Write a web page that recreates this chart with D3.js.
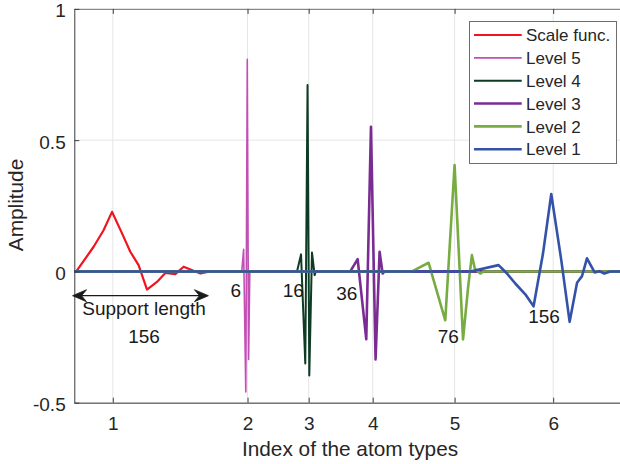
<!DOCTYPE html>
<html>
<head>
<meta charset="utf-8">
<script src="https://cdn.jsdelivr.net/npm/d3@7"></script>
<style>
  html, body { margin: 0; padding: 0; background: #fff; }
  svg { display: block; font-family: "Liberation Sans", Arial, Helvetica, sans-serif; }
</style>
</head>
<body>
<svg id="chart" width="620" height="464"></svg>
<script>
// Sample positions of the atom-type ticks and their labels
const tickSamples = [44.2, 198.9, 269.1, 342.6, 436.6, 549.8];
const tickLabels = ["1", "2", "3", "4", "5", "6"];
const yTicks = [-0.5, 0, 0.5, 1];
const yTickLabels = ["-0.5", "0", "0.5", "1"];

// Series names and colours
const seriesNames = ["Scale func.", "Level 5", "Level 4", "Level 3", "Level 2", "Level 1"];
const seriesColors = ["#f0141e", "#c24fb4", "#0d3b23", "#7b2c93", "#77ac41", "#3352a8"];
const seriesWidths = [2.2, 1.6, 2, 2.6, 2.6, 2.6];

// Atom waveforms: [sample index, amplitude]; zero elsewhere
const scaleFunc = [[2.3, 0], [22.2, 0.094], [33.6, 0.157], [43.3, 0.227], [54.8, 0.145], [64.3, 0.075],
  [73.8, 0.024], [83.5, -0.069], [94.9, -0.040], [104.5, -0.006], [116, -0.010], [125.5, 0.018],
  [144.7, -0.008], [156.1, 0]];
const level5 = [[192.3, 0], [194.4, 0.084], [196.9, -0.459], [198.6, 0.808], [200.1, -0.335], [201.5, 0]];
const level4 = [[255.7, 0], [260.3, 0.065], [265.2, -0.351], [267.8, 0.71], [269.8, -0.396],
  [272.9, 0.072], [275.9, -0.014], [277.3, 0]];
const level3 = [[316.9, 0], [325.3, 0.047], [335.2, -0.258], [340.6, 0.551], [345.9, -0.335],
  [350.5, 0.075], [354, -0.008], [356.3, 0]];
const level2 = [[387.7, 0], [406.8, 0.033], [425.9, -0.186], [436.6, 0.405], [446.3, -0.259],
  [452, -0.065], [456.5, 0.062], [459.8, 0.011], [466.1, -0.008], [469.9, 0]];
const level1 = [[454.7, 0], [487.1, 0.024], [496.8, -0.008], [506.3, -0.046], [517.8, -0.087],
  [527.3, -0.133], [538.1, 0.068], [547.6, 0.295], [559.1, 0.043], [568.7, -0.192], [577.2, -0.043],
  [582.9, -0.018], [588.6, 0.05], [597.4, -0.004], [602.8, 0.001], [608.5, -0.008], [615.4, 0]];
const seriesData = [scaleFunc, level5, level4, level3, level2, level1];

// Support lengths of each atom (samples)
const supportLengths = [156, 6, 16, 36, 76, 156];
const supportStart = -2;

const svg = d3.select("#chart");
const sampleMax = 640;
const x = d3.scaleLinear().domain([0, sampleMax]).range([74.3, 74.3 + sampleMax * 0.871]);
const y = d3.scaleLinear().domain([-0.5, 1]).range([402.7, 8.9]);
const x0 = x(0), x1 = x(sampleMax), yb = y(-0.5), yt = y(1);

const textColor = "#262626";
const axisColor = "#3c3c3c";

// Grid
const grid = svg.append("g");
grid.selectAll("line.gx").data(tickSamples).join("line")
  .attr("x1", d => x(d)).attr("x2", d => x(d)).attr("y1", yb).attr("y2", yt)
  .attr("stroke", "#e6e6e6").attr("stroke-width", 1);
grid.selectAll("line.gy").data(yTicks).join("line")
  .attr("x1", x0).attr("x2", x1).attr("y1", d => y(d)).attr("y2", d => y(d))
  .attr("stroke", "#e6e6e6").attr("stroke-width", 1);

// Series lines, padded with zeros across the full sample range
const line = d3.line().x(d => x(d[0])).y(d => y(d[1]));
seriesData.forEach((pts, i) => {
  const full = [[0, 0], ...pts, [sampleMax, 0]];
  svg.append("path").datum(full)
    .attr("d", line)
    .attr("fill", "none")
    .attr("stroke", seriesColors[i])
    .attr("stroke-width", seriesWidths[i])
    .attr("stroke-linejoin", "round");
});

// Axes (ticks point inward)
const xAxis = d3.axisBottom(x).tickValues(tickSamples)
  .tickFormat((d, i) => tickLabels[i]).tickSizeInner(-5).tickSizeOuter(0).tickPadding(14);
const gx = svg.append("g").attr("transform", `translate(0,${yb})`).call(xAxis);
const xTop = d3.axisTop(x).tickValues(tickSamples).tickFormat("").tickSizeInner(-5).tickSizeOuter(0);
const gxt = svg.append("g").attr("transform", `translate(0,${yt})`).call(xTop);
const yAxis = d3.axisLeft(y).tickValues(yTicks)
  .tickFormat((d, i) => yTickLabels[i]).tickSizeInner(-5).tickSizeOuter(0).tickPadding(8.6);
const gy = svg.append("g").attr("transform", `translate(${x0},0)`).call(yAxis);

[gx, gxt, gy].forEach(g => {
  g.select(".domain").attr("stroke", axisColor).attr("stroke-width", 1);
  g.selectAll(".tick line").attr("stroke", axisColor);
  g.selectAll(".tick text").attr("fill", textColor).style("font-size", "19px")
    .style("font-family", "'Liberation Sans', Arial, sans-serif");
});
gxt.select(".domain").attr("stroke", "#7a7a7a");
gy.selectAll(".tick text").attr("dy", "0.42em");

// Axis titles
svg.append("text").attr("x", 350).attr("y", 456).attr("text-anchor", "middle")
  .attr("fill", textColor).style("font-size", "20.8px").text("Index of the atom types");
svg.append("text").attr("transform", "translate(23,205) rotate(-90)").attr("text-anchor", "middle")
  .attr("fill", textColor).style("font-size", "20.8px").text("Amplitude");

// Support-length arrow for the scale function
const arrowY = 295.7;
const ax1 = x(supportStart), ax2 = x(supportStart + supportLengths[0]);
svg.append("line").attr("x1", ax1 + 4).attr("x2", ax2 - 4).attr("y1", arrowY).attr("y2", arrowY)
  .attr("stroke", "#1a1a1a").attr("stroke-width", 1.3);
function head(tx, dir) {
  const p = [[tx, arrowY], [tx + dir * 14, arrowY - 6], [tx + dir * 9, arrowY], [tx + dir * 14, arrowY + 6]];
  svg.append("path").attr("d", "M" + p.map(q => q.join(",")).join("L") + "Z")
    .attr("fill", "#1a1a1a").attr("stroke", "#1a1a1a").attr("stroke-width", 0.8).attr("stroke-linejoin", "round");
}
head(ax1, 1);
head(ax2, -1);

// Annotation labels: [x, baseline y] for each support-length text
const labelPos = [[144, 343], [235.7, 296.5], [293.3, 297], [346.7, 300], [448.3, 343], [544, 323]];
svg.append("text").attr("x", 144).attr("y", 315).attr("text-anchor", "middle")
  .attr("fill", "#1a1a1a").style("font-size", "19px").text("Support length");
svg.selectAll("text.len").data(supportLengths).join("text").attr("class", "len")
  .attr("x", (d, i) => labelPos[i][0]).attr("y", (d, i) => labelPos[i][1])
  .attr("text-anchor", "middle").attr("fill", "#1a1a1a").style("font-size", "19px")
  .text(d => d);

// Legend
const lg = svg.append("g");
lg.append("rect").attr("x", 469.5).attr("y", 21.5).attr("width", 147).attr("height", 142)
  .attr("fill", "#fff").attr("stroke", "#6e6e6e").attr("stroke-width", 1);
seriesNames.forEach((name, i) => {
  const ry = 35 + i * 22.85;
  lg.append("line").attr("x1", 474).attr("x2", 521.7).attr("y1", ry).attr("y2", ry)
    .attr("stroke", seriesColors[i]).attr("stroke-width", seriesWidths[i]);
  lg.append("text").attr("x", 526).attr("y", ry).attr("dy", "0.36em")
    .attr("fill", textColor).style("font-size", "17px").text(name);
});
</script>
</body>
</html>
